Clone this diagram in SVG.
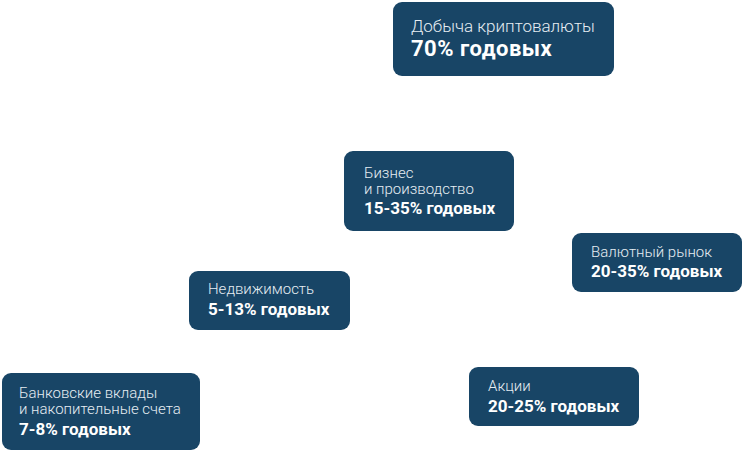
<svg xmlns="http://www.w3.org/2000/svg" width="742" height="452" viewBox="0 0 742 452">
<style>
.box{fill:#184566}
.t{font-family:Roboto,"Liberation Sans",sans-serif;fill:#ffffff}
.l{font-weight:300;font-size:15px;fill:#e6edf3}
.b{font-weight:700;font-size:17px}
.lg{font-weight:300;font-size:17px;fill:#e6edf3}
.bg{font-weight:700;font-size:22px;letter-spacing:0.5px}
</style>
<rect width="742" height="452" fill="#ffffff"/>
<g id="connectors"></g>
<g id="crypto">
<rect class="box" x="393" y="2" width="221" height="74" rx="9"/>
<text class="t lg" x="411" y="32">Добыча криптовалюты</text>
<text class="t bg" x="411" y="56">70% годовых</text>
</g>
<g id="business">
<rect class="box" x="344" y="151" width="170" height="80" rx="9"/>
<text class="t l" x="364" y="178">Бизнес</text>
<text class="t l" x="364" y="194">и производство</text>
<text class="t b" x="364" y="214">15-35% годовых</text>
</g>
<g id="forex">
<rect class="box" x="572" y="233" width="170" height="59" rx="9"/>
<text class="t l" x="591" y="257">Валютный рынок</text>
<text class="t b" x="591" y="277">20-35% годовых</text>
</g>
<g id="realty">
<rect class="box" x="189" y="271" width="161" height="59" rx="9"/>
<text class="t l" x="208" y="294">Недвижимость</text>
<text class="t b" x="208" y="315">5-13% годовых</text>
</g>
<g id="stocks">
<rect class="box" x="469" y="367" width="170" height="59" rx="9"/>
<text class="t l" x="488" y="391">Акции</text>
<text class="t b" x="488" y="412">20-25% годовых</text>
</g>
<g id="bank">
<rect class="box" x="2" y="373" width="198" height="77" rx="9"/>
<text class="t l" x="19" y="398">Банковские вклады</text>
<text class="t l" x="19" y="414">и накопительные счета</text>
<text class="t b" x="19" y="435">7-8% годовых</text>
</g>
</svg>
